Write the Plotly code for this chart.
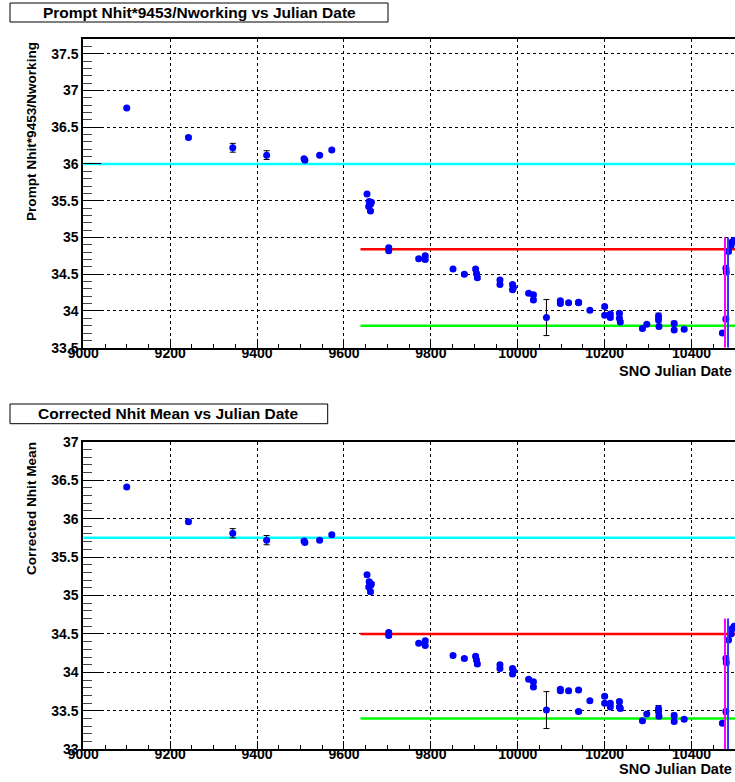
import plotly.graph_objects as go

W, H = 735, 782

# ---------------- data ----------------
run_dates = [9100, 9242, 9344, 9422, 9508, 9510, 9544, 9572,
             9653, 9658, 9661, 9657, 9661, 9663, 9703, 9703,
             9772, 9787, 9787, 9851, 9877, 9903, 9905, 9907,
             9959, 9959, 9988, 9990, 9988, 10025, 10036, 10036,
             10066, 10098, 10098, 10117, 10140, 10140, 10166, 10200,
             10200, 10213, 10213, 10234, 10234, 10236, 10287, 10297,
             10324, 10324, 10325, 10360, 10360, 10383, 10471, 10479,
             10479, 10480, 10485, 10491, 10494, 10498]

prompt_nhit = [36.76, 36.36, 36.22, 36.12, 36.07, 36.05, 36.12, 36.19,
               35.59, 35.49, 35.45, 35.42, 35.36, 35.48, 34.86, 34.82,
               34.71, 34.75, 34.70, 34.57, 34.50, 34.57, 34.51, 34.45,
               34.42, 34.36, 34.36, 34.32, 34.29, 34.24, 34.22, 34.15,
               33.91, 34.14, 34.10, 34.11, 34.12, 34.11, 34.01, 34.06,
               33.94, 33.96, 33.91, 33.97, 33.90, 33.85, 33.76, 33.82,
               33.93, 33.88, 33.79, 33.83, 33.74, 33.75, 33.70, 33.89,
               34.58, 34.53, 34.81, 34.89, 34.94, 34.96]

prompt_err = [0.02, 0.02, 0.06, 0.06, 0.02, 0.02, 0.02, 0.02,
              0.02, 0.02, 0.02, 0.02, 0.02, 0.02, 0.02, 0.02,
              0.02, 0.02, 0.02, 0.02, 0.02, 0.02, 0.02, 0.02,
              0.02, 0.02, 0.02, 0.02, 0.02, 0.02, 0.02, 0.02,
              0.245, 0.02, 0.02, 0.02, 0.02, 0.02, 0.02, 0.02,
              0.02, 0.02, 0.02, 0.02, 0.02, 0.02, 0.02, 0.02,
              0.04, 0.03, 0.03, 0.03, 0.02, 0.02, 0.02, 0.03,
              0.03, 0.03, 0.02, 0.02, 0.02, 0.02]

corrected_nhit = [36.41, 35.96, 35.81, 35.72, 35.71, 35.69, 35.72, 35.79,
                  35.27, 35.18, 35.13, 35.11, 35.05, 35.15, 34.52, 34.48,
                  34.38, 34.41, 34.35, 34.22, 34.18, 34.21, 34.16, 34.11,
                  34.10, 34.05, 34.05, 34.02, 33.98, 33.91, 33.88, 33.81,
                  33.51, 33.78, 33.76, 33.76, 33.77, 33.49, 33.63, 33.69,
                  33.60, 33.60, 33.55, 33.62, 33.55, 33.53, 33.37, 33.46,
                  33.53, 33.49, 33.43, 33.44, 33.36, 33.39, 33.34, 33.49,
                  34.18, 34.13, 34.42, 34.50, 34.57, 34.60]

corrected_err = [0.02, 0.02, 0.06, 0.06, 0.02, 0.02, 0.02, 0.02,
                 0.02, 0.02, 0.02, 0.02, 0.02, 0.02, 0.02, 0.02,
                 0.02, 0.02, 0.02, 0.02, 0.02, 0.02, 0.02, 0.02,
                 0.02, 0.02, 0.02, 0.02, 0.02, 0.02, 0.02, 0.02,
                 0.24, 0.02, 0.02, 0.02, 0.02, 0.02, 0.02, 0.02,
                 0.02, 0.02, 0.02, 0.02, 0.02, 0.02, 0.02, 0.02,
                 0.04, 0.03, 0.03, 0.03, 0.02, 0.02, 0.02, 0.03,
                 0.03, 0.03, 0.02, 0.02, 0.02, 0.02]

# reference lines: (x start, x end, level)
ref_colors = ["#00ffff", "#ff0000", "#00ff00"]
ref_x_start = [9000, 9638, 9638]
ref_x_end = [10500, 10500, 10500]
prompt_ref_levels = [36.00, 34.84, 33.80]
corrected_ref_levels = [35.75, 34.50, 33.40]

# vertical markers
vline_dates = [10477, 10484]
vline_colors = ["#ff00ff", "#3333ff"]
prompt_vline_range = [33.5, 35.0]
corrected_vline_range = [33.0, 34.7]

x_range = [9000, 10500]
prompt_y_range = [33.5, 37.7]
corrected_y_range = [33.0, 37.0]

titles = ["Prompt Nhit*9453/Nworking vs Julian Date",
          "Corrected Nhit Mean vs Julian Date"]
y_titles = ["Prompt Nhit*9453/Nworking", "Corrected Nhit Mean"]
x_title = "SNO Julian Date"

# ---------------- figure ----------------
FONT = "Liberation Sans, Arial, Helvetica, sans-serif"
fig = go.Figure()


def px(xp):
    return xp / W


def py(yp):
    return 1 - yp / H


panels = [
    dict(xa="x", ya="y", vals=prompt_nhit, errs=prompt_err,
         levels=prompt_ref_levels, vr=prompt_vline_range),
    dict(xa="x2", ya="y2", vals=corrected_nhit, errs=corrected_err,
         levels=corrected_ref_levels, vr=corrected_vline_range),
]

for p in panels:
    for c, xs, xe, lv in zip(ref_colors, ref_x_start, ref_x_end, p["levels"]):
        fig.add_trace(go.Scatter(x=[xs, xe], y=[lv, lv], mode="lines",
                                 line=dict(color=c, width=2.5),
                                 xaxis=p["xa"], yaxis=p["ya"],
                                 showlegend=False, hoverinfo="skip"))
    fig.add_trace(go.Scatter(x=run_dates, y=p["vals"], mode="markers",
                             marker=dict(color="#0000ff", size=7),
                             error_y=dict(type="data", array=p["errs"],
                                          color="black", thickness=1, width=3),
                             xaxis=p["xa"], yaxis=p["ya"], showlegend=False))
    for d, c in zip(vline_dates, vline_colors):
        fig.add_trace(go.Scatter(x=[d, d], y=p["vr"], mode="lines",
                                 line=dict(color=c, width=2),
                                 xaxis=p["xa"], yaxis=p["ya"],
                                 showlegend=False, hoverinfo="skip"))

tickfont = dict(family=FONT, size=14, color="black", weight="bold")


def xaxis_cfg(anchor):
    return dict(domain=[px(83.3), 1.0], range=x_range, anchor=anchor,
                automargin=False,
                showline=True, linecolor="black", linewidth=2, mirror=True,
                ticks="inside", ticklen=8, tickwidth=1, tickcolor="black",
                tick0=9000, dtick=200, tickformat="d",
                ticklabelstandoff=-9,
                minor=dict(ticks="inside", ticklen=4, dtick=50,
                           tickcolor="black", tickwidth=1, showgrid=False),
                showgrid=True, gridcolor="black", griddash="dot", gridwidth=1,
                zeroline=False, tickfont=tickfont)


def yaxis_cfg(dom, rng, anchor):
    return dict(domain=dom, range=rng, anchor=anchor,
                automargin=False,
                showline=True, linecolor="black", linewidth=2, mirror=False,
                ticks="inside", ticklen=18, tickwidth=1, tickcolor="black",
                tick0=33, dtick=0.5,
                minor=dict(ticks="inside", ticklen=9, dtick=0.1,
                           tickcolor="#444444", tickwidth=1, showgrid=False),
                showgrid=True, gridcolor="black", griddash="dot", gridwidth=1,
                zeroline=False, tickfont=tickfont)


fig.update_layout(
    width=W, height=H,
    margin=dict(l=0, r=0, t=0, b=0, autoexpand=False),
    paper_bgcolor="white", plot_bgcolor="white",
    xaxis=xaxis_cfg("y"),
    yaxis=yaxis_cfg([py(347.7), py(39)], prompt_y_range, "x"),
    xaxis2=xaxis_cfg("y2"),
    yaxis2=yaxis_cfg([py(749.3), py(441.7)], corrected_y_range, "x2"),
    showlegend=False,
)

# title boxes
boxes = [(10, 3, 388, 22), (10, 404, 327.7, 423.7)]
for (x0, y0, x1, y1), t in zip(boxes, titles):
    fig.add_shape(type="rect", xref="paper", yref="paper",
                  x0=px(x0), x1=px(x1), y0=py(y1), y1=py(y0),
                  line=dict(color="black", width=1), fillcolor="white")
    fig.add_annotation(x=px((x0 + x1) / 2), y=py((y0 + y1) / 2),
                       xref="paper", yref="paper", text=t, showarrow=False,
                       xanchor="center", yanchor="middle",
                       font=dict(family=FONT, size=15.5, color="black", weight="bold"))

# y axis titles
for t, top in zip(y_titles, [40, 440]):
    fig.add_annotation(x=px(31.5), y=py(top), xref="paper", yref="paper",
                       text=t, textangle=-90, showarrow=False,
                       xanchor="center", yanchor="top",
                       font=dict(family=FONT, size=13.6, color="black", weight="bold"))

# x axis titles
for yc in [371, 769]:
    fig.add_annotation(x=px(734), y=py(yc), xref="paper", yref="paper",
                       text=x_title, showarrow=False,
                       xanchor="right", yanchor="middle",
                       font=dict(family=FONT, size=14.5, color="black", weight="bold"))

fig.write_html("out.html")
